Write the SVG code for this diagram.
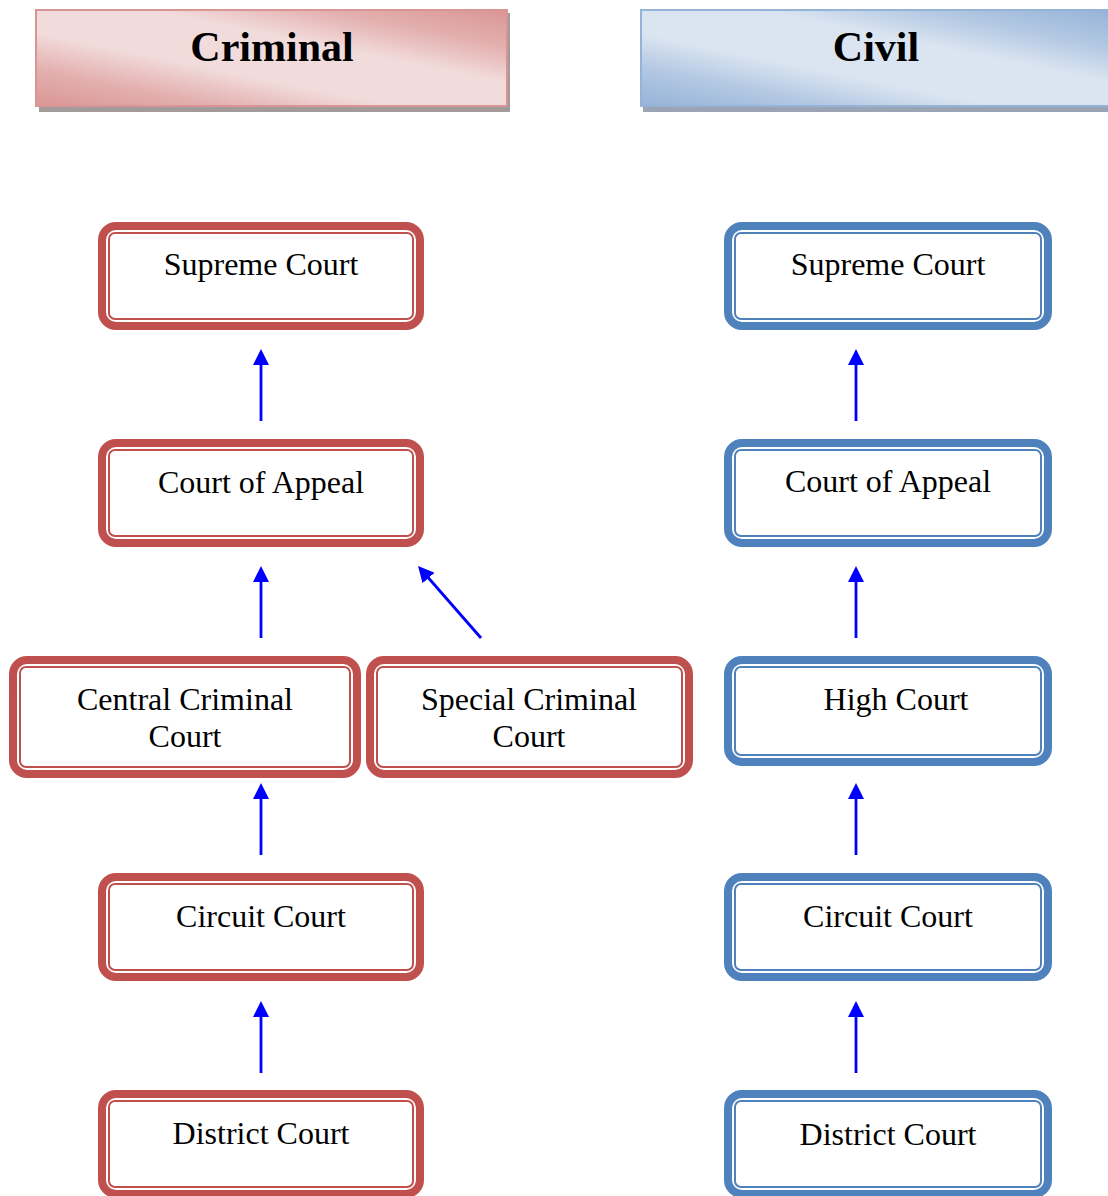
<svg xmlns="http://www.w3.org/2000/svg" width="1108" height="1196" viewBox="0 0 1108 1196">
<defs>
<linearGradient id="gRed" x1="0" y1="1" x2="1" y2="0">
<stop offset="0" stop-color="#d99594"/>
<stop offset="0.2" stop-color="#e3b1b0"/>
<stop offset="0.38" stop-color="#f2dbdb"/>
<stop offset="0.62" stop-color="#f2dbdb"/>
<stop offset="0.8" stop-color="#e3b1b0"/>
<stop offset="1" stop-color="#d99594"/>
</linearGradient>
<linearGradient id="gBlue" x1="0" y1="1" x2="1" y2="0">
<stop offset="0" stop-color="#95b3d7"/>
<stop offset="0.2" stop-color="#b3c8e3"/>
<stop offset="0.38" stop-color="#dbe5f1"/>
<stop offset="0.62" stop-color="#dbe5f1"/>
<stop offset="0.8" stop-color="#b3c8e3"/>
<stop offset="1" stop-color="#95b3d7"/>
</linearGradient>
<marker id="ah" viewBox="0 0 16 16" markerWidth="16" markerHeight="16" refX="6" refY="8" orient="auto" markerUnits="userSpaceOnUse">
<path d="M0,0 L16,8 L0,16 z" fill="#0000ff"/>
</marker>
</defs>
<style>
.hdr{font-family:"Liberation Serif","Times New Roman",serif;font-weight:bold;font-size:42px;text-anchor:middle;fill:#000}
.lbl{font-family:"Liberation Serif","Times New Roman",serif;font-size:32px;text-anchor:middle;fill:#000}
.ro{fill:#fff;stroke:#c0504d;stroke-width:8}
.ri{fill:none;stroke:#c0504d;stroke-width:2}
.bo{fill:#fff;stroke:#4f81bd;stroke-width:8}
.bi{fill:none;stroke:#4f81bd;stroke-width:2}
.arr{stroke:#0000ff;stroke-width:2.8;fill:none;marker-end:url(#ah)}
</style>
<rect width="1108" height="1196" fill="#fff"/>

<g id="hdr-criminal">
<rect x="39" y="13" width="471" height="99" fill="#a39a9a"/>
<rect x="36" y="10" width="471" height="96" fill="url(#gRed)" stroke="#d99594" stroke-width="2"/>
<text class="hdr" x="272" y="61">Criminal</text>
</g>
<g id="hdr-civil">
<rect x="643" y="13" width="470" height="99" fill="#9aa4b4"/>
<rect x="641" y="10" width="470" height="96" fill="url(#gBlue)" stroke="#95b3d7" stroke-width="2"/>
<text class="hdr" x="876" y="61">Civil</text>
</g>

<g id="c-supreme">
<rect class="ro" x="102" y="226" width="318" height="100" rx="14"/>
<rect class="ri" x="109" y="233" width="304" height="86" rx="6"/>
<text class="lbl" x="261" y="275">Supreme Court</text>
</g>
<g id="c-appeal">
<rect class="ro" x="102" y="443" width="318" height="100" rx="14"/>
<rect class="ri" x="109" y="450" width="304" height="86" rx="6"/>
<text class="lbl" x="261" y="493">Court of Appeal</text>
</g>
<g id="c-central">
<rect class="ro" x="13" y="660" width="344" height="114" rx="14"/>
<rect class="ri" x="20" y="667" width="330" height="100" rx="6"/>
<text class="lbl" x="185" y="710">Central Criminal</text>
<text class="lbl" x="185" y="747">Court</text>
</g>
<g id="c-special">
<rect class="ro" x="370" y="660" width="319" height="114" rx="14"/>
<rect class="ri" x="377" y="667" width="305" height="100" rx="6"/>
<text class="lbl" x="529" y="710">Special Criminal</text>
<text class="lbl" x="529" y="747">Court</text>
</g>
<g id="c-circuit">
<rect class="ro" x="102" y="877" width="318" height="100" rx="14"/>
<rect class="ri" x="109" y="884" width="304" height="86" rx="6"/>
<text class="lbl" x="261" y="927">Circuit Court</text>
</g>
<g id="c-district">
<rect class="ro" x="102" y="1094" width="318" height="100" rx="14"/>
<rect class="ri" x="109" y="1101" width="304" height="86" rx="6"/>
<text class="lbl" x="261" y="1144">District Court</text>
</g>

<g id="v-supreme">
<rect class="bo" x="728" y="226" width="320" height="100" rx="14"/>
<rect class="bi" x="735" y="233" width="306" height="86" rx="6"/>
<text class="lbl" x="888" y="275">Supreme Court</text>
</g>
<g id="v-appeal">
<rect class="bo" x="728" y="443" width="320" height="100" rx="14"/>
<rect class="bi" x="735" y="450" width="306" height="86" rx="6"/>
<text class="lbl" x="888" y="492">Court of Appeal</text>
</g>
<g id="v-high">
<rect class="bo" x="728" y="660" width="320" height="102" rx="14"/>
<rect class="bi" x="735" y="667" width="306" height="88" rx="6"/>
<text class="lbl" x="896" y="710">High Court</text>
</g>
<g id="v-circuit">
<rect class="bo" x="728" y="877" width="320" height="100" rx="14"/>
<rect class="bi" x="735" y="884" width="306" height="86" rx="6"/>
<text class="lbl" x="888" y="927">Circuit Court</text>
</g>
<g id="v-district">
<rect class="bo" x="728" y="1094" width="320" height="100" rx="14"/>
<rect class="bi" x="735" y="1101" width="306" height="86" rx="6"/>
<text class="lbl" x="888" y="1145">District Court</text>
</g>

<g id="connectors">
<line class="arr" x1="261" y1="421" x2="261" y2="359"/>
<line class="arr" x1="261" y1="638" x2="261" y2="576"/>
<line class="arr" x1="481" y1="638" x2="424.6" y2="573.5"/>
<line class="arr" x1="261" y1="855" x2="261" y2="793"/>
<line class="arr" x1="261" y1="1073" x2="261" y2="1011"/>
<line class="arr" x1="856" y1="421" x2="856" y2="359"/>
<line class="arr" x1="856" y1="638" x2="856" y2="576"/>
<line class="arr" x1="856" y1="855" x2="856" y2="793"/>
<line class="arr" x1="856" y1="1073" x2="856" y2="1011"/>
</g>
</svg>
